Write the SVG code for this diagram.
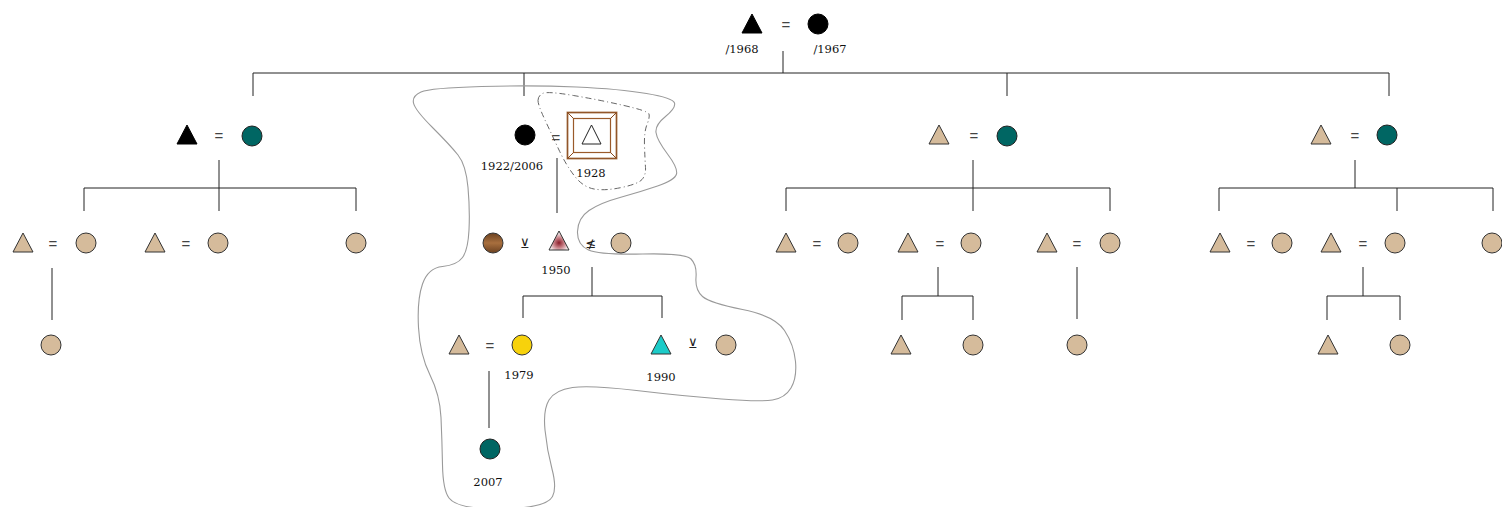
<svg xmlns="http://www.w3.org/2000/svg" width="1502" height="507" viewBox="0 0 1502 507">
<style>
.ln{stroke:#222;stroke-width:1;fill:none}
.tan{fill:#D5BB9B;stroke:#333;stroke-width:1}
.blk{fill:#000;stroke:#000;stroke-width:1}
.teal{fill:#006663;stroke:#222;stroke-width:1}
.eq{font-family:"Liberation Sans",Arial,sans-serif;font-size:15px;fill:#444;text-anchor:middle}
.sym{font-family:"DejaVu Sans",sans-serif;font-size:13px;fill:#222;text-anchor:middle}
.lbl{font-family:"DejaVu Serif","Liberation Serif",serif;font-size:11.5px;fill:#111;text-anchor:middle}
.outline{fill:none;stroke:#9a9a9a;stroke-width:1.1}
.dashed{fill:none;stroke:#555;stroke-width:0.9;stroke-dasharray:6 3 1 3}
</style>
<defs>
<path id="tri" d="M0,-10 L10,9 L-10,9 Z"/>
<radialGradient id="g1950" cx="50%" cy="62%" r="55%">
<stop offset="0" stop-color="#8a1d2a"/>
<stop offset="0.45" stop-color="#c67b82"/>
<stop offset="1" stop-color="#ffffff"/>
</radialGradient>
<linearGradient id="gbrown" x1="0" y1="0" x2="0" y2="1">
<stop offset="0" stop-color="#6b4120"/>
<stop offset="0.5" stop-color="#a86f3e"/>
<stop offset="1" stop-color="#6b4120"/>
</linearGradient>
</defs>

<g id="connectors">
<path class="ln" d="M783,51 V73 M253,73 H1389 M253,73 V96 M524,73 V96 M1007,73 V96 M1389,73 V96"/>
<path class="ln" d="M219,160 V211 M84,188 H356 M84,188 V211 M356,188 V211 M52,268 V320"/>
<path class="ln" d="M557,158 V213 M592,267 V296 M523,296 H662 M523,296 V318 M662,296 V318 M489,371 V428"/>
<path class="ln" d="M973,160 V211 M786,188 H1110 M786,188 V211 M1110,188 V211 M938,267 V296 M902,296 H973 M902,296 V320 M973,296 V320 M1077,267 V319"/>
<path class="ln" d="M1355,160 V188 M1219,188 H1493 M1219,188 V211 M1397,188 V211 M1493,188 V211 M1363,267 V296 M1327,296 H1400 M1327,296 V320 M1400,296 V320"/>
</g>

<g id="outlines">
<path class="outline" d="M413.5,103 Q412,96 421,92 Q430,88 481.5,86.5 Q533,85 576.5,87 Q620,89 646.5,93.5 Q673,98 674.5,103 Q676,108 665.5,116.5 Q655,125 656,132.5 Q657,140 667.5,154 Q678,168 676.5,174 Q675,180 657.5,186 Q640,192 620,197.5 Q600,203 589,210.5 Q578,218 577.5,231.5 Q577,245 588.5,250 Q600,255 642.5,254 Q685,253 691,259 Q697,265 696,277.5 Q695,290 702.5,296.5 Q710,303 742.5,309.5 Q775,316 784.5,330.5 Q794,345 795.5,361.5 Q797,378 791,388 Q785,398 772.5,400 Q760,402 721.5,399 Q683,396 636.5,390.5 Q590,385 572.5,387.5 Q555,390 549,400 Q543,410 545,430 Q547,450 552,469 Q557,488 552.5,496.5 Q548,505 524,507.5 Q500,510 477.5,508 Q455,506 449,498 Q443,490 442.5,465 Q442,440 441,417.5 Q440,395 430,375 Q420,355 418.5,327.5 Q417,300 422.5,284 Q428,268 442.5,266.5 Q457,265 462.5,257.5 Q468,250 469,230 Q470,210 468,187.5 Q466,165 458,155 Q450,145 432.5,127.5 Q415,110 413.5,103 Z"/>
<path class="dashed" d="M538,100.5 Q538,96 542.5,93.5 Q547,91 573.5,95.5 Q600,100 624,105.5 Q648,111 649,114 Q650,117 647,124.5 Q644,132 644.5,146 Q645,160 645.5,167.5 Q646,175 642,179.5 Q638,184 621.5,187.5 Q605,191 594,189 Q583,187 574.5,176 Q566,165 559,150 Q552,135 545,120 Q538,105 538,100.5 Z"/>
</g>

<g id="n-top-m"><use href="#tri" x="752" y="24" class="blk"/><text class="lbl" x="742" y="53">/1968</text></g>
<g id="n-top-eq"><text class="eq" x="786" y="30">=</text></g>
<g id="n-top-f"><circle cx="818" cy="24" r="10" class="blk"/><text class="lbl" x="830" y="53">/1967</text></g>

<g id="n-f1-m"><use href="#tri" x="187" y="135" class="blk"/></g>
<g id="n-f1-eq"><text class="eq" x="219" y="141">=</text></g>
<g id="n-f1-f"><circle cx="252" cy="136" r="10" class="teal"/></g>
<g id="n-f1-c1"><use href="#tri" x="23" y="243" class="tan"/><text class="eq" x="53" y="249">=</text><circle cx="86" cy="243" r="10" class="tan"/></g>
<g id="n-f1-c2"><use href="#tri" x="155" y="243" class="tan"/><text class="eq" x="186" y="249">=</text><circle cx="218" cy="243" r="10" class="tan"/></g>
<g id="n-f1-c3"><circle cx="356" cy="243" r="10" class="tan"/></g>
<g id="n-f1-gc"><circle cx="51" cy="345" r="10" class="tan"/></g>

<g id="n-f2-f"><circle cx="525" cy="135" r="10" class="blk"/><text class="lbl" x="512" y="170">1922/2006</text></g>
<g id="n-f2-eq"><text class="eq" x="556" y="143">=</text></g>
<g id="n-f2-m">
<rect x="567.5" y="112.5" width="49" height="46" fill="#fff" stroke="#b48a66" stroke-width="2"/>
<rect x="567.5" y="112.5" width="49" height="46" fill="none" stroke="#8a4a1c" stroke-width="0.8"/>
<rect x="573.5" y="118.5" width="37" height="34" fill="#fff" stroke="#9a5a2a" stroke-width="1.2"/>
<path d="M567.5,112.5 L573.5,118.5 M616.5,112.5 L610.5,118.5 M567.5,158.5 L573.5,152.5 M616.5,158.5 L610.5,152.5" stroke="#8a4a1c" stroke-width="1"/>
<path d="M591.5,125 L601,144 L582,144 Z" fill="#fff" stroke="#222" stroke-width="1"/>
<text class="lbl" x="591" y="177">1928</text>
</g>
<g id="n-f2-p1"><circle cx="493" cy="243" r="10" fill="url(#gbrown)" stroke="#333" stroke-width="1"/></g>
<g id="n-f2-r1"><text class="sym" x="525" y="248">⊻</text></g>
<g id="n-f2-c"><use href="#tri" x="559" y="241" fill="url(#g1950)" stroke="#333" stroke-width="1"/><text class="lbl" x="556" y="274">1950</text></g>
<g id="n-f2-r2"><text class="sym" x="591" y="248">≰</text></g>
<g id="n-f2-p2"><circle cx="621" cy="243" r="10" class="tan"/></g>
<g id="n-f2-g1"><use href="#tri" x="459" y="345" class="tan"/><text class="eq" x="490" y="351">=</text><circle cx="522" cy="345" r="10" fill="#F7D20C" stroke="#333" stroke-width="1"/><text class="lbl" x="519" y="379">1979</text></g>
<g id="n-f2-g2"><use href="#tri" x="661" y="345" fill="#1CCBC8" stroke="#333" stroke-width="1"/><text class="lbl" x="661" y="381">1990</text><text class="sym" x="693" y="348">⊻</text><circle cx="726" cy="345" r="10" class="tan"/></g>
<g id="n-f2-gg"><circle cx="490" cy="449" r="10" class="teal"/><text class="lbl" x="488" y="486">2007</text></g>

<g id="n-f3-m"><use href="#tri" x="939" y="135" class="tan"/></g>
<g id="n-f3-eq"><text class="eq" x="974" y="141">=</text></g>
<g id="n-f3-f"><circle cx="1007" cy="136" r="10" class="teal"/></g>
<g id="n-f3-c1"><use href="#tri" x="786" y="243" class="tan"/><text class="eq" x="817" y="249">=</text><circle cx="848" cy="243" r="10" class="tan"/></g>
<g id="n-f3-c2"><use href="#tri" x="908" y="243" class="tan"/><text class="eq" x="940" y="249">=</text><circle cx="971" cy="243" r="10" class="tan"/></g>
<g id="n-f3-c3"><use href="#tri" x="1047" y="243" class="tan"/><text class="eq" x="1077" y="249">=</text><circle cx="1110" cy="243" r="10" class="tan"/></g>
<g id="n-f3-g1"><use href="#tri" x="901" y="345" class="tan"/></g>
<g id="n-f3-g2"><circle cx="973" cy="345" r="10" class="tan"/></g>
<g id="n-f3-g3"><circle cx="1077" cy="345" r="10" class="tan"/></g>

<g id="n-f4-m"><use href="#tri" x="1321" y="135" class="tan"/></g>
<g id="n-f4-eq"><text class="eq" x="1355" y="141">=</text></g>
<g id="n-f4-f"><circle cx="1387" cy="135" r="10" class="teal"/></g>
<g id="n-f4-c1"><use href="#tri" x="1220" y="243" class="tan"/><text class="eq" x="1251" y="249">=</text><circle cx="1282" cy="243" r="10" class="tan"/></g>
<g id="n-f4-c2"><use href="#tri" x="1331" y="243" class="tan"/><text class="eq" x="1363" y="249">=</text><circle cx="1395" cy="243" r="10" class="tan"/></g>
<g id="n-f4-c3"><circle cx="1492" cy="243" r="10" class="tan"/></g>
<g id="n-f4-g1"><use href="#tri" x="1328" y="345" class="tan"/></g>
<g id="n-f4-g2"><circle cx="1400" cy="345" r="10" class="tan"/></g>
</svg>
